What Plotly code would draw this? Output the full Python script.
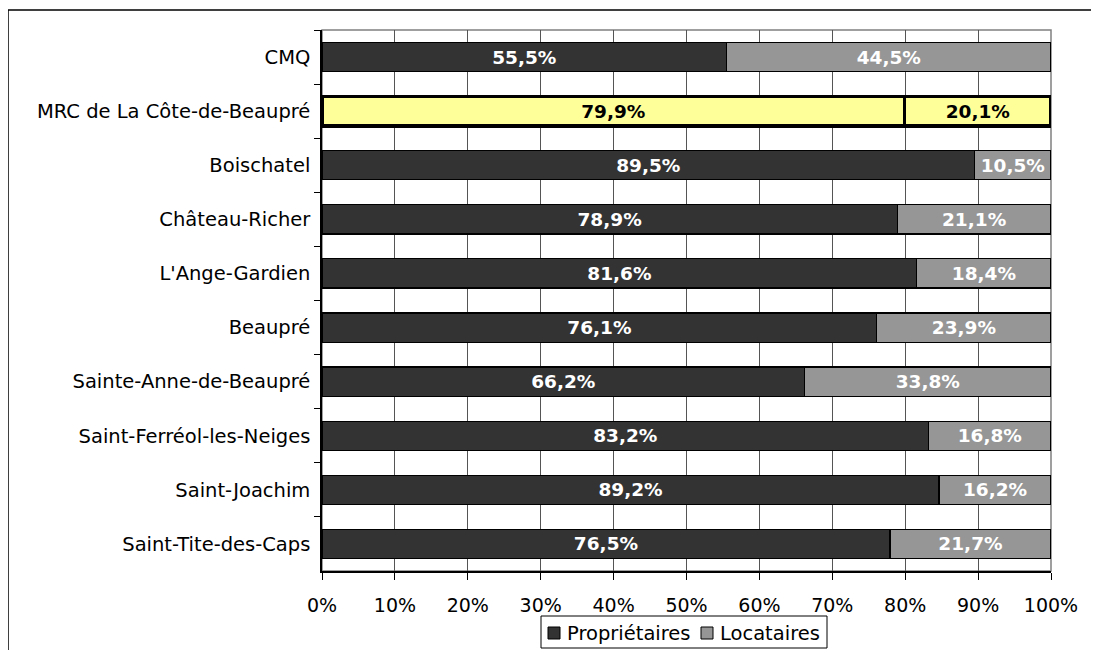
import plotly.graph_objects as go

# Data
territoires = ["CMQ", "MRC de La Côte-de-Beaupré", "Boischatel", "Château-Richer",
               "L'Ange-Gardien", "Beaupré", "Sainte-Anne-de-Beaupré",
               "Saint-Ferréol-les-Neiges", "Saint-Joachim", "Saint-Tite-des-Caps"]
proprietaires = [55.5, 79.9, 89.5, 78.9, 81.6, 76.1, 66.2, 83.2, 89.2, 76.5]
locataires = [44.5, 20.1, 10.5, 21.1, 18.4, 23.9, 33.8, 16.8, 16.2, 21.7]
x_ticks = [0, 10, 20, 30, 40, 50, 60, 70, 80, 90, 100]
x_tick_labels = ["0%", "10%", "20%", "30%", "40%", "50%", "60%", "70%", "80%", "90%", "100%"]

highlight = "MRC de La Côte-de-Beaupré"
series = [("Propriétaires", proprietaires, "#333333"),
          ("Locataires", locataires, "#969696")]

# figure geometry (px); the page body keeps an 8px margin
W, H = 1091, 642
ML, MR, MT, MB = 314, 48, 22, 79
PW, PH = W - ML - MR, H - MT - MB


def px(x):
    return (x - ML) / PW


def py(y):
    return (H - MB - y) / PH


def fmt(v):
    return f"{v:.1f}%".replace(".", ",")


fig = go.Figure()

for name, vals, base in series:
    fills = ["#FFFF99" if t == highlight else base for t in territoires]
    widths = [3.8 if t == highlight else 1.2 for t in territoires]
    txt_col = ["black" if t == highlight else "white" for t in territoires]
    fig.add_trace(go.Bar(
        name=name,
        y=territoires,
        x=vals,
        orientation="h",
        text=[fmt(v) for v in vals],
        textposition="inside",
        insidetextanchor="middle",
        textangle=0,
        constraintext="none",
        textfont=dict(family="DejaVu Sans", size=18.5, color=txt_col, weight="bold"),
        marker=dict(color=fills, line=dict(color="black", width=widths)),
        hoverinfo="skip",
    ))

fig.update_layout(
    width=W,
    height=H,
    barmode="stack",
    barnorm="percent",
    bargap=0.46,
    plot_bgcolor="white",
    paper_bgcolor="white",
    margin=dict(l=ML, r=MR, t=MT, b=MB),
    font=dict(family="DejaVu Sans", size=16, color="black"),
    showlegend=False,
)

fig.update_xaxes(
    range=[0, 100],
    tickvals=x_ticks,
    ticktext=x_tick_labels,
    ticks="outside", ticklen=7, tickcolor="black",
    showline=True, linecolor="black", linewidth=1.5,
    showgrid=True, gridcolor="#555555", gridwidth=1,
    zeroline=False,
    ticklabelstandoff=9,
    tickfont=dict(size=19),
)

fig.update_yaxes(
    categoryorder="array",
    categoryarray=territoires,
    range=[9.5, -0.5],
    ticks="outside", ticklen=6, tickcolor="black",
    tickson="boundaries",
    showline=True, linecolor="black", linewidth=1.5,
    showgrid=False,
    ticklabelstandoff=6,
    tickfont=dict(size=19.5),
)

# plot area border (top/right in gray)
fig.add_shape(type="rect", xref="paper", yref="paper", x0=0, x1=1, y0=0, y1=1,
              line=dict(color="#808080", width=1.5), layer="below")
# outer chart frame
fig.add_shape(type="rect", xref="paper", yref="paper",
              x0=px(0), x1=px(W + 20), y0=py(H + 20), y1=py(2),
              line=dict(color="black", width=1.5), layer="below")

# legend box, drawn by hand so it does not push the plot area
fig.add_shape(type="rect", xref="paper", yref="paper",
              x0=px(533), x1=px(819), y0=py(640), y1=py(608),
              line=dict(color="black", width=1), fillcolor="white")
for (name, _, base), sx in zip(series, [540, 693]):
    fig.add_shape(type="rect", xref="paper", yref="paper",
                  x0=px(sx), x1=px(sx + 12), y0=py(631), y1=py(619),
                  line=dict(color="black", width=1), fillcolor=base)
    fig.add_annotation(text=name, xref="paper", yref="paper",
                       x=px(sx + 17), y=py(625), xanchor="left", yanchor="middle",
                       showarrow=False, font=dict(size=19.5))

fig.write_html("out.html")
